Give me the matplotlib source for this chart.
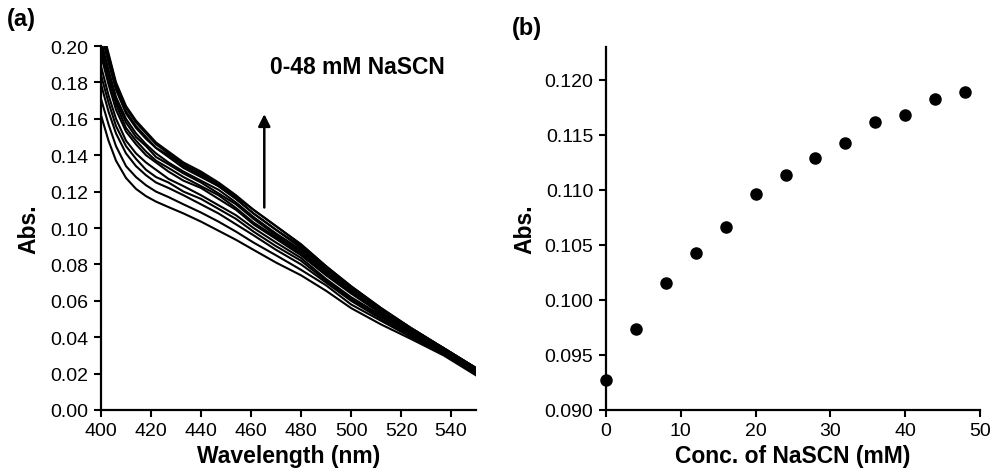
import matplotlib
matplotlib.use("Agg")
import matplotlib.pyplot as plt
import numpy as np

plt.rcParams['font.family'] = ['Liberation Sans', 'DejaVu Sans']

# ---- panel (a): spectra, 0-48 mM NaSCN (absorbance x1000) ----
wavelength = [400, 403, 406, 410, 414, 418, 422, 427, 433, 440, 447,
              454, 461, 470, 480, 490, 500, 512, 524, 537, 550]
spec_0mM = [162, 148, 137, 127.5, 121.5, 117.5, 114.5, 111.5, 108, 103.5, 98.5, 93.5, 88, 81, 74, 65.5, 56, 47, 39, 30, 19]
spec_4mM = [171, 157, 145, 134, 128, 123.5, 120, 117, 113, 108.5, 103.5, 98, 92, 85, 77, 68.5, 58, 49, 40, 31, 20]
spec_8mM = [179, 164, 152, 141, 134, 129, 125, 122, 118, 113, 108, 102, 96, 88, 80, 70, 60, 50, 41, 31, 20]
spec_12mM = [184, 169, 156, 145, 138, 132, 128, 125, 120, 116, 110.5, 105, 98, 90, 82, 71, 61, 51, 42, 32, 21]
spec_16mM = [189, 173, 160, 148, 141, 136, 132, 127, 123, 118, 112.5, 107, 100, 92, 83.5, 72, 62, 52, 42, 32, 21]
spec_20mM = [195, 179, 165, 153, 146, 140, 136, 131, 126, 122, 116, 110, 102, 94, 85, 74, 64, 53, 43, 33, 22]
spec_24mM = [198, 182, 168, 155, 148, 142, 137, 133, 128, 123, 118, 111, 103, 95, 86, 75, 65, 53, 43, 33, 22]
spec_28mM = [201, 185, 170, 158, 150, 145, 139, 135, 130, 125, 119, 113, 105, 96, 87, 76, 65, 54, 44, 33, 22]
spec_32mM = [203, 187, 172, 160, 152, 146, 141, 136, 131, 126, 121, 114, 106, 97, 88, 77, 66, 54, 44, 33, 22]
spec_36mM = [207, 191, 176, 163, 155, 149, 144, 139, 133, 128, 123, 116, 108, 99, 89, 78, 67, 55, 44, 34, 23]
spec_40mM = [208, 192, 177, 164, 156, 150, 144, 140, 134, 129, 123, 116, 108, 99, 90, 78, 67, 55, 45, 34, 23]
spec_44mM = [211, 195, 179, 166, 158, 152, 146, 141, 135, 130, 124, 117, 110, 101, 91, 79, 68, 56, 45, 34, 23]
spec_48mM = [212, 196, 180, 167, 159, 153, 147, 142, 136, 131, 125, 118, 110, 101, 91, 79, 68, 56, 45, 34, 23]
spectra = [spec_0mM, spec_4mM, spec_8mM, spec_12mM, spec_16mM, spec_20mM, spec_24mM,
           spec_28mM, spec_32mM, spec_36mM, spec_40mM, spec_44mM, spec_48mM]

# ---- panel (b): absorbance vs. NaSCN concentration ----
conc = [0, 4, 8, 12, 16, 20, 24, 28, 32, 36, 40, 44, 48]
absorb = [0.0927, 0.0974, 0.1015, 0.1043, 0.1066, 0.1096, 0.1114, 0.1129,
          0.1143, 0.1162, 0.1168, 0.1183, 0.1189]

fig = plt.figure(figsize=(9.95, 4.77), dpi=100)
ax1 = fig.add_axes([0.1015, 0.1384, 0.377, 0.763])
ax2 = fig.add_axes([0.609, 0.1384, 0.376, 0.761])

tick_fs = 14
label_fs = 16.5

for ax in (ax1, ax2):
    for side in ('top', 'right'):
        ax.spines[side].set_visible(False)
    for side in ('left', 'bottom'):
        ax.spines[side].set_linewidth(1.6)
    ax.tick_params(direction='out', length=5, width=1.5, labelsize=tick_fs, pad=4)

# (a)
for s in spectra:
    ax1.plot(wavelength, np.array(s) / 1000, color='black', lw=1.5,
             solid_joinstyle='round')
ax1.set_xlim(400, 550)
ax1.set_ylim(0, 0.20)
ax1.set_xticks(np.arange(400, 541, 20))
ax1.set_yticks(np.arange(0, 0.201, 0.02))
ax1.yaxis.set_major_formatter(plt.FormatStrFormatter('%.2f'))
ax1.set_xlabel('Wavelength (nm)', fontsize=label_fs, fontweight='bold', labelpad=3)
ax1.set_ylabel('Abs.', fontsize=label_fs, fontweight='bold', labelpad=7)
ax1.annotate('', xy=(465.3, 0.1626), xytext=(465.3, 0.1113),
             arrowprops=dict(arrowstyle='-|>', color='black', lw=1.8,
                             mutation_scale=18, shrinkA=0, shrinkB=0))
ax1.text(467.5, 0.1885, '0-48 mM NaSCN', fontsize=16.5, fontweight='bold', va='center')

# (b)
ax2.scatter(conc, absorb, s=64, color='black', zorder=3, clip_on=False)
ax2.set_xlim(0, 50)
ax2.set_ylim(0.090, 0.123)
ax2.set_xticks(np.arange(0, 51, 10))
ax2.set_yticks(np.arange(0.090, 0.1201, 0.005))
ax2.yaxis.set_major_formatter(plt.FormatStrFormatter('%.3f'))
ax2.set_xlabel('Conc. of NaSCN (mM)', fontsize=label_fs, fontweight='bold', labelpad=3)
ax2.set_ylabel('Abs.', fontsize=label_fs, fontweight='bold', labelpad=6)

fig.text(0.007, 0.96, '(a)', fontsize=17, fontweight='bold', va='center')
fig.text(0.514, 0.94, '(b)', fontsize=17, fontweight='bold', va='center')

fig.savefig('out.png', dpi=100)
